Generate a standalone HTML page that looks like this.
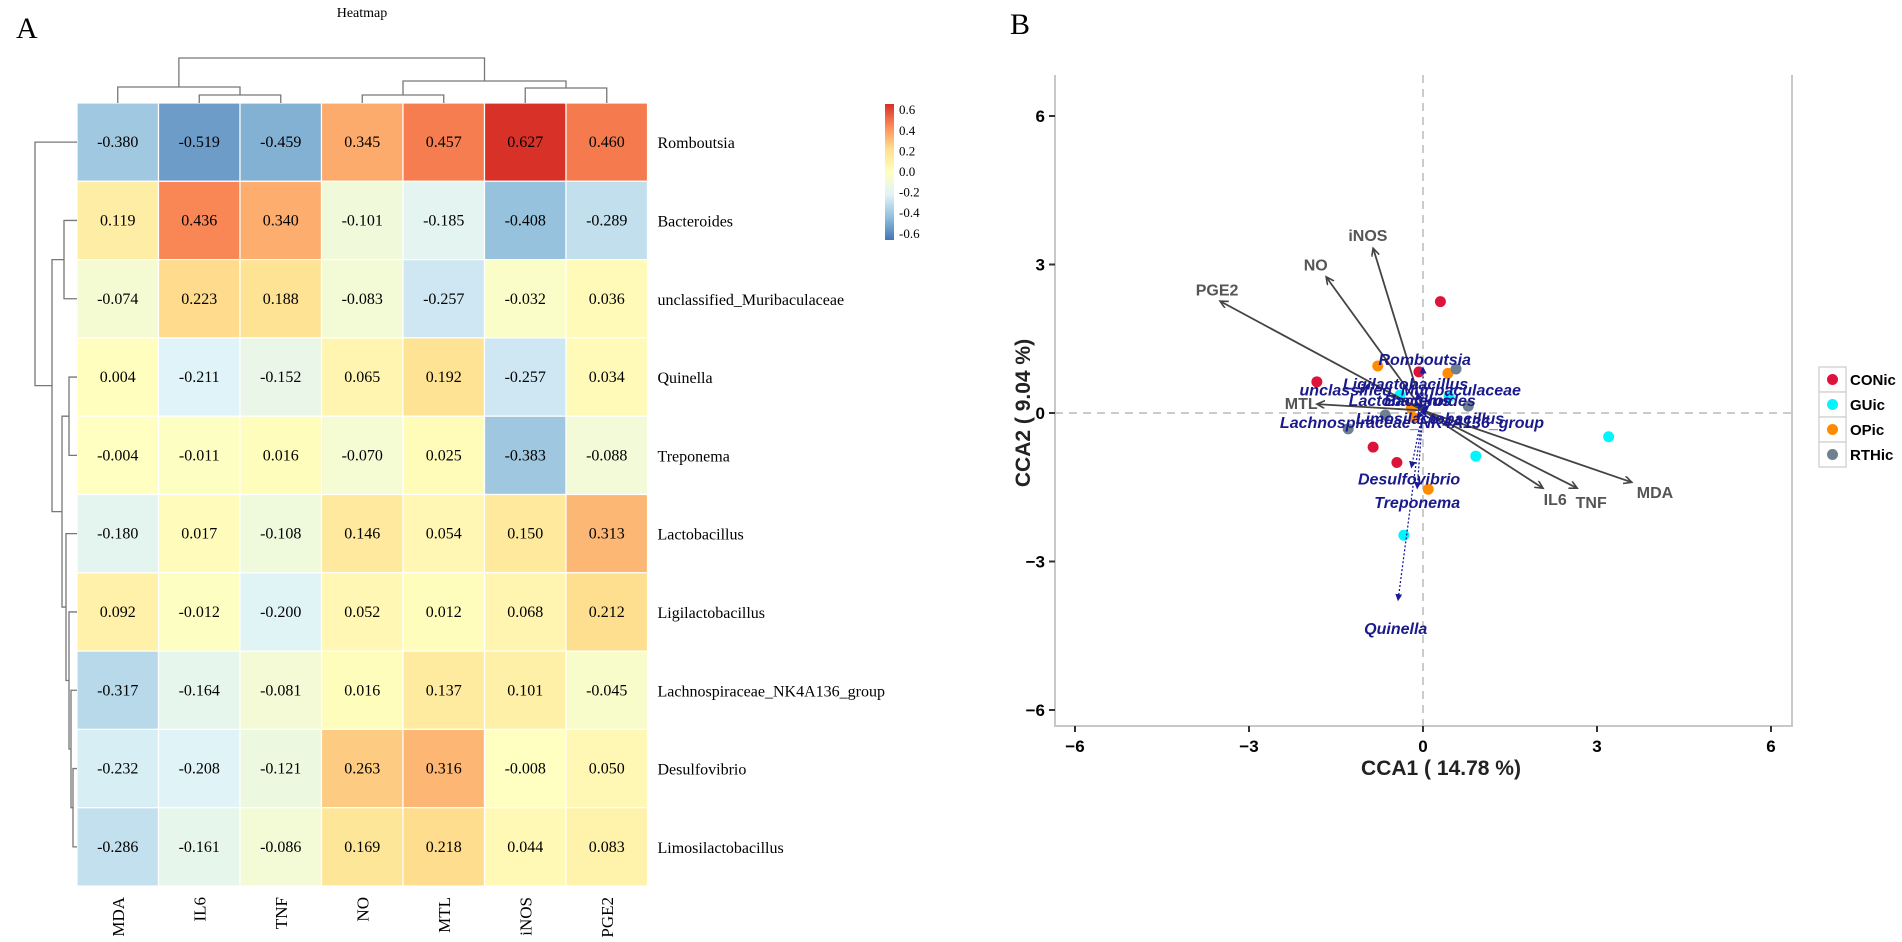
<!DOCTYPE html>
<html><head><meta charset="utf-8"><style>
html,body{margin:0;padding:0;background:#fff;}
svg{display:block;}
.tm{font-family:"Liberation Serif",serif;}
.hv{font-family:"Liberation Sans",sans-serif;}
</style></head><body>
<svg id="fig" width="1902" height="942" viewBox="0 0 1902 942" xmlns="http://www.w3.org/2000/svg">
<defs>
<marker id="ah" markerWidth="10" markerHeight="10" refX="8" refY="4" orient="auto" markerUnits="userSpaceOnUse"><path d="M0,0 L8,4 L0,8" fill="none" stroke="#444" stroke-width="1.6"/></marker>
<marker id="ahb" markerWidth="8" markerHeight="8" refX="6" refY="3" orient="auto" markerUnits="userSpaceOnUse"><path d="M0,0 L6,3 L0,6 Z" fill="#1a1a9c" stroke="#1a1a9c" stroke-width="1"/></marker>
<linearGradient id="cbg" x1="0" y1="1" x2="0" y2="0">
<stop offset="0" stop-color="#4575b4"/><stop offset="0.1667" stop-color="#91bfdb"/><stop offset="0.3333" stop-color="#e0f3f8"/><stop offset="0.5" stop-color="#ffffbf"/><stop offset="0.6667" stop-color="#fee090"/><stop offset="0.8333" stop-color="#fc8d59"/><stop offset="1" stop-color="#d73027"/>
</linearGradient>
</defs>
<text x="16" y="38" class="tm" font-size="30">A</text>
<text x="362" y="17" class="tm" font-size="14" text-anchor="middle">Heatmap</text>
<text x="1010" y="34" class="tm" font-size="30">B</text>
<g id="heat"></g>
<g id="dendro" stroke="#777" stroke-width="1.3" fill="none"></g>
<g id="cbar"></g>
<g id="cca"></g>
</svg>
<script>
const cols = ["MDA","IL6","TNF","NO","MTL","iNOS","PGE2"];
const rows = ["Romboutsia","Bacteroides","unclassified_Muribaculaceae","Quinella","Treponema","Lactobacillus","Ligilactobacillus","Lachnospiraceae_NK4A136_group","Desulfovibrio","Limosilactobacillus"];
const vals = [
[-0.380,-0.519,-0.459,0.345,0.457,0.627,0.460],
[0.119,0.436,0.340,-0.101,-0.185,-0.408,-0.289],
[-0.074,0.223,0.188,-0.083,-0.257,-0.032,0.036],
[0.004,-0.211,-0.152,0.065,0.192,-0.257,0.034],
[-0.004,-0.011,0.016,-0.070,0.025,-0.383,-0.088],
[-0.180,0.017,-0.108,0.146,0.054,0.150,0.313],
[0.092,-0.012,-0.200,0.052,0.012,0.068,0.212],
[-0.317,-0.164,-0.081,0.016,0.137,0.101,-0.045],
[-0.232,-0.208,-0.121,0.263,0.316,-0.008,0.050],
[-0.286,-0.161,-0.086,0.169,0.218,0.044,0.083]];
const cbTicks = [0.6,0.4,0.2,0.0,-0.2,-0.4,-0.6];

const groups = ["CONic","GUic","OPic","RTHic"];
const groupColors = ["#dc143c","#00f5ff","#ff8c00","#708090"];
const ptX = [0.3,-1.83,-0.07,-0.86,-0.45, 3.2,0.91,-0.33,-0.4,0.45, -0.78,0.43,-0.2,0.09,-0.15, -1.29,-0.65,0.57,0.78];
const ptY = [2.25,0.63,0.83,-0.69,-1.0, -0.48,-0.87,-2.47,0.36,0.33, 0.95,0.8,0.1,-1.54,-0.1, -0.32,-0.04,0.89,0.14];
const ptG = [0,0,0,0,0, 1,1,1,1,1, 2,2,2,2,2, 3,3,3,3];

const envNames = ["PGE2","NO","iNOS","MTL","MDA","TNF","IL6"];
const envX = [-3.5,-1.67,-0.86,-1.83,3.6,2.66,2.07];
const envY = [2.26,2.75,3.33,0.18,-1.4,-1.52,-1.52];
const envLX = [-3.55,-1.85,-0.95,-2.1,4.0,2.9,2.28];
const envLY = [2.5,3.0,3.6,0.2,-1.6,-1.8,-1.74];

const spNames = ["Romboutsia","Ligilactobacillus","unclassified_Muribaculaceae","Lactobacillus","Bacteroides","Limosilactobacillus","Lachnospiraceae_NK4A136_group","Desulfovibrio","Treponema","Quinella"];
const spX = [0.0,-0.1,0.15,-0.1,0.1,0.05,-0.1,-0.2,-0.1,-0.43];
const spY = [0.92,0.4,0.3,0.2,0.15,-0.05,-0.1,-1.1,-1.52,-3.78];
const spLX = [0.03,-0.3,-0.22,-0.4,0.12,0.12,-0.19,-0.24,-0.1,-0.47];
const spLY = [1.09,0.6,0.47,0.26,0.26,-0.1,-0.18,-1.32,-1.8,-4.34];

const xTicks = [-6,-3,0,3,6];
const yTicks = [-6,-3,0,3,6];

const NS="http://www.w3.org/2000/svg";
function mk(tag, parent, attrs, text){const e=document.createElementNS(NS,tag);for(const k in attrs)e.setAttribute(k,attrs[k]);if(text!==undefined)e.textContent=text;parent.appendChild(e);return e;}

// ---- heatmap ----
const HL=77, HT=103, CW=81.5, RH=78.3;
const stops=[[-0.63,[69,117,180]],[-0.42,[145,191,219]],[-0.21,[224,243,248]],[0,[255,255,191]],[0.21,[254,224,144]],[0.42,[252,141,89]],[0.63,[215,48,39]]];
function color(v){if(v<=stops[0][0])return "rgb("+stops[0][1]+")";for(let i=0;i<stops.length-1;i++){const a=stops[i],b=stops[i+1];if(v<=b[0]){const t=(v-a[0])/(b[0]-a[0]);const c=a[1].map((x,j)=>Math.round(x+(b[1][j]-x)*t));return "rgb("+c+")";}}return "rgb("+stops[stops.length-1][1]+")";}
const heat=document.getElementById('heat');
rows.forEach((r,i)=>{
  cols.forEach((c,j)=>{
    const v=vals[i][j];
    const rc=mk('rect',heat,{x:HL+j*CW,y:HT+i*RH,width:CW,height:RH,fill:color(v),stroke:"#fff","stroke-width":1.2});
    
    
    const t=mk('text',heat,{x:HL+(j+0.5)*CW,y:HT+(i+0.5)*RH+5,"text-anchor":"middle","font-size":16,class:"tm"},v.toFixed(3));
    
    
  });
  const l=mk('text',heat,{x:HL+7*CW+10,y:HT+(i+0.5)*RH+6,"font-size":16,class:"tm"},r);
  
  
});
cols.forEach((c,j)=>{
  const cx=HL+(j+0.5)*CW, y0=HT+10*RH+11;
  const t=mk('text',heat,{x:cx+6,y:y0,"text-anchor":"end","font-size":17,class:"tm",transform:"rotate(-90 "+(cx+6)+" "+y0+")"},c);
  
  
});
// ---- dendrograms ----
const dg=document.getElementById('dendro');
function cxj(j){return HL+(j+0.5)*CW;}
function ryi(i){return HT+(i+0.5)*RH;}
function cl(x1,x2,y,yc1,yc2){mk('path',dg,{d:`M${x1},${yc1} L${x1},${y} L${x2},${y} L${x2},${yc2}`});}
cl(cxj(1),cxj(2),95,HT,HT);
cl(cxj(0),(cxj(1)+cxj(2))/2,87,HT,95);
cl(cxj(3),cxj(4),95,HT,HT);
cl(cxj(5),cxj(6),88,HT,HT);
cl((cxj(3)+cxj(4))/2,(cxj(5)+cxj(6))/2,81,95,88);
cl((cxj(0)+(cxj(1)+cxj(2))/2)/2,((cxj(3)+cxj(4))/2+(cxj(5)+cxj(6))/2)/2,58,87,81);
function rl(x,y1,y2,xc1,xc2){mk('path',dg,{d:`M${xc1},${y1} L${x},${y1} L${x},${y2} L${xc2},${y2}`});}
rl(64,ryi(1),ryi(2),HL,HL);
rl(69,ryi(3),ryi(4),HL,HL);
rl(73,ryi(8),ryi(9),HL,HL);
const n1=(ryi(8)+ryi(9))/2;
rl(71,ryi(7),n1,HL,73);
const n2=(ryi(7)+n1)/2;
rl(69,ryi(6),n2,HL,71);
const n3=(ryi(6)+n2)/2;
rl(66,ryi(5),n3,HL,69);
const n4=(ryi(5)+n3)/2;
const qt=(ryi(3)+ryi(4))/2;
rl(62,qt,n4,69,66);
const n5=(qt+n4)/2;
const bm=(ryi(1)+ryi(2))/2;
rl(52,bm,n5,64,62);
const n6=(bm+n5)/2;
rl(35,ryi(0),n6,HL,52);
// ---- colorbar ----
const cb=document.getElementById('cbar');
mk('rect',cb,{x:885,y:104,width:9,height:136,fill:"url(#cbg)"});
cbTicks.forEach((v)=>{
  const y=171-v*103;
  const t=mk('text',cb,{x:899,y:y+5,"font-size":13,class:"tm"},v.toFixed(1));
  
  
});
// ---- CCA ----
const cca=document.getElementById('cca');
const X=v=>1423+58*v, Y=v=>413-49.5*v;
const PL=1055,PR=1792,PT=75,PB=726;
mk('path',cca,{d:`M${PL},${PT} L${PL},${PB} L${PR},${PB} L${PR},${PT}`,fill:"none",stroke:"#c8c8c8","stroke-width":2});
mk('line',cca,{x1:X(0),x2:X(0),y1:PT,y2:PB,stroke:"#bbb","stroke-width":1.5,"stroke-dasharray":"8,6"});
mk('line',cca,{x1:PL,x2:PR,y1:Y(0),y2:Y(0),stroke:"#bbb","stroke-width":1.5,"stroke-dasharray":"8,6"});
xTicks.forEach(v=>{
  mk('line',cca,{x1:X(v),x2:X(v),y1:PB,y2:PB+6,stroke:"#333","stroke-width":2});
  const t=mk('text',cca,{x:X(v),y:PB+26,"text-anchor":"middle","font-size":17,"font-weight":"bold",class:"hv"},v<0?"\u2212"+(-v):String(v));
  
  
});
yTicks.forEach(v=>{
  mk('line',cca,{x1:PL-6,x2:PL,y1:Y(v),y2:Y(v),stroke:"#333","stroke-width":2});
  const t=mk('text',cca,{x:PL-10,y:Y(v)+6,"text-anchor":"end","font-size":17,"font-weight":"bold",class:"hv"},v<0?"\u2212"+(-v):String(v));
  
  
});
const xt=mk('text',cca,{x:1441,y:775,"text-anchor":"middle","font-size":21,"font-weight":"bold",class:"hv",fill:"#222"},"CCA1 ( 14.78 %)");


const yt=mk('text',cca,{x:1030,y:413,"text-anchor":"middle","font-size":21,"font-weight":"bold",class:"hv",fill:"#222",transform:"rotate(-90 1030 413)"},"CCA2 ( 9.04 %)");


// points
ptX.forEach((v,i)=>{
  const c=mk('circle',cca,{cx:X(v),cy:Y(ptY[i]),r:5.5,fill:groupColors[ptG[i]]});
  
  
});
// env arrows
envNames.forEach((n,i)=>{
  const a=mk('line',cca,{x1:X(0),y1:Y(0.05),x2:X(envX[i]),y2:Y(envY[i]),stroke:"#444","stroke-width":1.8,"marker-end":"url(#ah)"});
  
  
  const t=mk('text',cca,{x:X(envLX[i]),y:Y(envLY[i])+6,"text-anchor":"middle","font-size":16,"font-weight":"bold",class:"hv",fill:"#555"},n);
  
  
});
// species arrows
spNames.forEach((n,i)=>{
  const a=mk('line',cca,{x1:X(0),y1:Y(0.05),x2:X(spX[i]),y2:Y(spY[i]),stroke:"#1a1a9c","stroke-width":1.3,"stroke-dasharray":"2,2","marker-end":"url(#ahb)"});
  
  
});
spNames.forEach((n,i)=>{
  const t=mk('text',cca,{x:X(spLX[i]),y:Y(spLY[i])+6,"text-anchor":"middle","font-size":16,"font-weight":"bold","font-style":"italic",class:"hv",fill:"#1a1a8c"},n);
  
  
});
// legend
groups.forEach((g,i)=>{
  const y=367+i*25;
  const r=mk('rect',cca,{x:1819,y:y,width:27,height:25,fill:"#fff",stroke:"#ccc","stroke-width":1.2});
  
  
  mk('circle',cca,{cx:1832.5,cy:y+12.5,r:5.5,fill:groupColors[i]});
  const t=mk('text',cca,{x:1850,y:y+18,"font-size":15,"font-weight":"bold",class:"hv"},g);
  
  
});
</script>
</body></html>
